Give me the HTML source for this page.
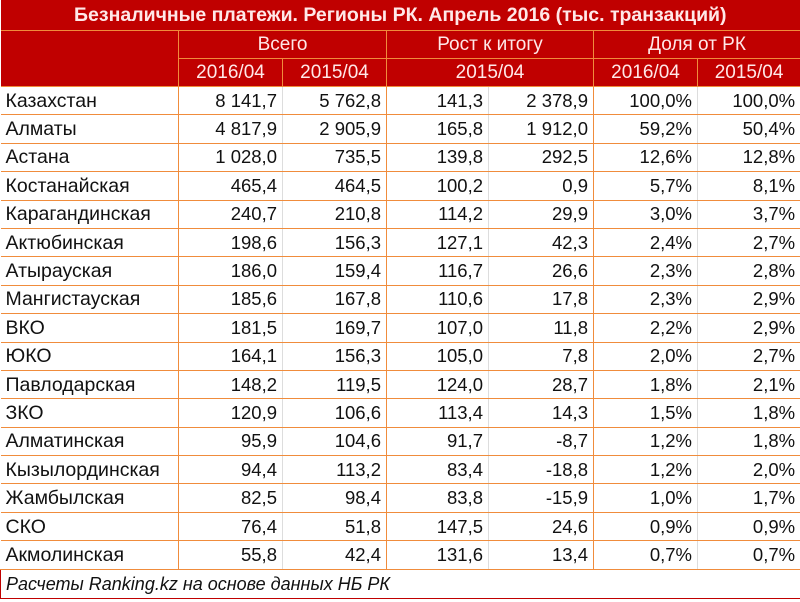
<!DOCTYPE html>
<html><head><meta charset="utf-8"><style>
body{margin:0;width:800px;height:602px;background:#fff;font-family:"Liberation Sans",sans-serif;overflow:hidden}
table{border-collapse:collapse;table-layout:fixed;width:800px;position:absolute;left:0;top:0}
td{padding:0 5px;font-size:18.5px;color:#111;white-space:nowrap;overflow:hidden;border-bottom:1px solid #F08C3C;border-right:1px solid #ddd;line-height:20px}
tr.d td{height:27.4px;text-align:right}
tr.d td:first-child{text-align:left;border-right:1px solid #F08C3C;font-size:19.5px}
td.o{border-right:1px solid #F08C3C!important}
.h td{background:#C00000;color:#FFE8E8;text-align:center;border-color:#F08C3C;border-right:1px solid #F08C3C;font-size:19px}
.t td{height:30px;font-weight:bold;font-size:19.5px}
.h2 td{height:27px}
.f td{height:28px;font-style:italic;text-align:left;border:1px solid #C00000;font-size:18px}
</style></head><body>
<table>
<colgroup><col style="width:178px"><col style="width:104px"><col style="width:104px"><col style="width:102px"><col style="width:105px"><col style="width:104px"><col style="width:103px"></colgroup>
<tr class="h t"><td colspan="7">Безналичные платежи. Регионы РК. Апрель 2016 (тыс. транзакций)</td></tr>
<tr class="h h2"><td rowspan="2"></td><td colspan="2">Всего</td><td colspan="2">Рост к итогу</td><td colspan="2">Доля от РК</td></tr>
<tr class="h h2"><td>2016/04</td><td>2015/04</td><td colspan="2">2015/04</td><td>2016/04</td><td>2015/04</td></tr>
<tbody id="body"></tbody>
<tr class="f"><td colspan="7">Расчеты Ranking.kz на основе данных НБ РК</td></tr>
</table>
<script>
const regions=["Казахстан","Алматы","Астана","Костанайская","Карагандинская","Актюбинская","Атырауская","Мангистауская","ВКО","ЮКО","Павлодарская","ЗКО","Алматинская","Кызылординская","Жамбылская","СКО","Акмолинская"];
const total2016=["8 141,7","4 817,9","1 028,0","465,4","240,7","198,6","186,0","185,6","181,5","164,1","148,2","120,9","95,9","94,4","82,5","76,4","55,8"];
const total2015=["5 762,8","2 905,9","735,5","464,5","210,8","156,3","159,4","167,8","169,7","156,3","119,5","106,6","104,6","113,2","98,4","51,8","42,4"];
const growthPct=["141,3","165,8","139,8","100,2","114,2","127,1","116,7","110,6","107,0","105,0","124,0","113,4","91,7","83,4","83,8","147,5","131,6"];
const growthAbs=["2 378,9","1 912,0","292,5","0,9","29,9","42,3","26,6","17,8","11,8","7,8","28,7","14,3","-8,7","-18,8","-15,9","24,6","13,4"];
const share2016=["100,0%","59,2%","12,6%","5,7%","3,0%","2,4%","2,3%","2,3%","2,2%","2,0%","1,8%","1,5%","1,2%","1,2%","1,0%","0,9%","0,7%"];
const share2015=["100,0%","50,4%","12,8%","8,1%","3,7%","2,7%","2,8%","2,9%","2,9%","2,7%","2,1%","1,8%","1,8%","2,0%","1,7%","0,9%","0,7%"];
const body=document.getElementById('body');
const names=['region-name','total-2016','total-2015','growth-pct','growth-abs','share-2016','share-2015'];
regions.forEach((r,i)=>{
  const tr=document.createElement('tr');tr.className='d';
  
  
  [r,total2016[i],total2015[i],growthPct[i],growthAbs[i],share2016[i],share2015[i]].forEach((v,j)=>{
    const td=document.createElement('td');td.textContent=v;
    if(j==2||j==4||j==6)td.className='o';
    
    
    tr.appendChild(td);
  });
  body.appendChild(tr);
});
</script>
</body></html>
